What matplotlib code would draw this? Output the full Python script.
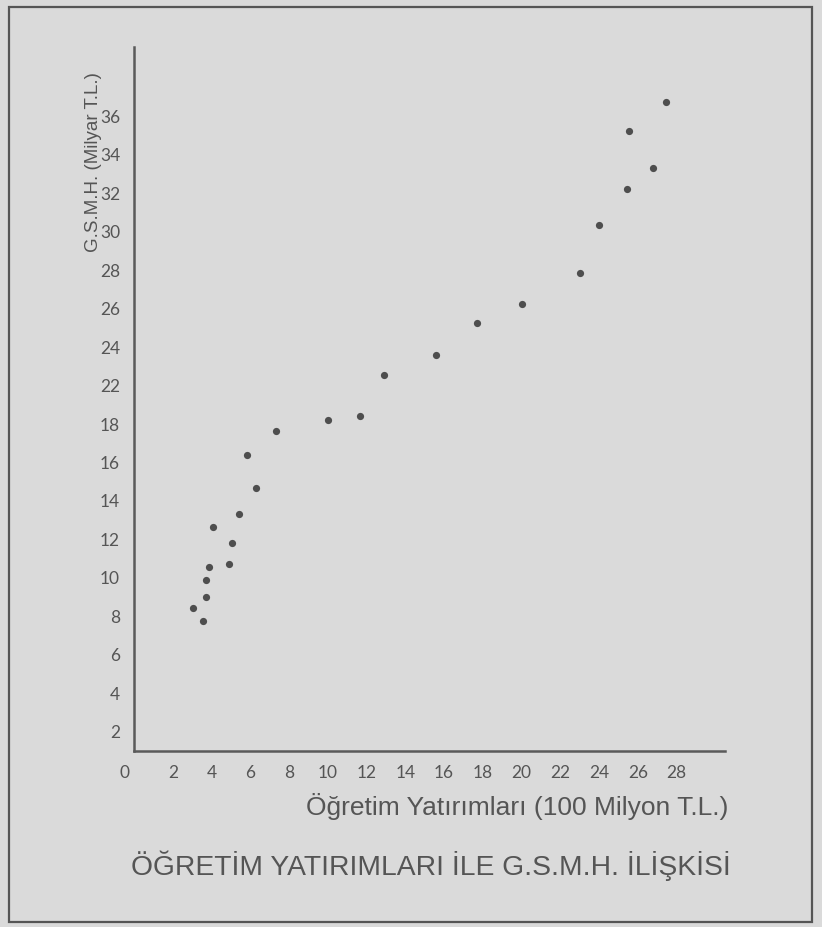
import numpy as np
import matplotlib
matplotlib.use("Agg")
import matplotlib.pyplot as plt
import matplotlib.transforms as mtransforms
from matplotlib.patches import Rectangle

# ---- data ----
investment = [3.07, 3.57, 3.69, 3.72, 3.86, 4.08, 4.91, 5.06, 5.42, 5.84, 6.31, 7.33,
              9.99, 11.68, 12.88, 15.59, 17.72, 20.01, 23.03, 24.01, 25.44, 25.54,
              26.76, 27.46]
gnp = [8.45, 7.78, 9.01, 9.88, 10.56, 12.62, 10.73, 11.82, 13.33, 16.41, 14.69, 17.66,
       18.46, 18.84, 22.54, 23.61, 25.23, 26.22, 27.83, 30.33, 32.24, 35.24,
       33.29, 36.76]
x_tick_values = [0, 2, 4, 6, 8, 10, 12, 14, 16, 18, 20, 22, 24, 26, 28]
y_tick_values = [2, 4, 6, 8, 10, 12, 14, 16, 18, 22, 24, 26, 28, 30, 32, 34, 36]

x_label = "Öğretim Yatırımları (100 Milyon T.L.)"
y_label = "G.S.M.H. (Milyar T.L.)"
title = "ÖĞRETİM YATIRIMLARI İLE G.S.M.H. İLİŞKİSİ"

# The original axis skips the label 20: its labels sit on evenly spaced positions.
y_tick_pos = np.arange(2, 2 * len(y_tick_values) + 1, 2)


def to_axis(v):
    v = np.asarray(v, dtype=float)
    lab = np.array([0] + y_tick_values + [40])
    pos = np.array([0] + list(y_tick_pos) + [38])
    return np.interp(v, lab, pos)


bg = "#dadada"
ink = "#5a5a5a"

fig = plt.figure(figsize=(8.22, 9.27), dpi=100, facecolor=bg)
ax = fig.add_axes([134 / 822, 1 - 751 / 927, (725 - 134) / 822, (751 - 47) / 927])
ax.set_facecolor(bg)

ax.plot(investment, to_axis(gnp), linestyle="none", marker="o",
        markersize=5.2, color="#4e4e4e", markeredgewidth=0)

ax.set_xlim(0, 30.5)
ax.set_ylim(1.0, 37.6)

for side in ("top", "right"):
    ax.spines[side].set_visible(False)
for side in ("left", "bottom"):
    ax.spines[side].set_color(ink)
    ax.spines[side].set_linewidth(1.8)

tick_font = dict(family=["Lato", "DejaVu Sans"], size=12.5, color="#555555")
ax.set_xticks(x_tick_values)
ax.set_xticklabels([str(v) for v in x_tick_values], **tick_font)
ax.set_yticks(y_tick_pos)
ax.set_yticklabels([str(v) for v in y_tick_values], **tick_font)
ax.tick_params(axis="both", length=0)
ax.tick_params(axis="x", pad=10)
ax.tick_params(axis="y", pad=10)

# the "0" label sits a little left of the origin in the original
lbl0 = ax.get_xticklabels()[0]
lbl0.set_transform(lbl0.get_transform() +
                   mtransforms.ScaledTranslation(-10 / 100, 0, fig.dpi_scale_trans))

label_font = dict(family=["Liberation Sans", "DejaVu Sans"], color="#555555")
fig.text(728 / 822, 1 - 807 / 927, x_label, ha="right", va="center",
         size=19, **label_font)
fig.text(93 / 822, 1 - 162 / 927, y_label, ha="center", va="center",
         rotation=90, size=13.5, **label_font)
fig.text(431 / 822, 1 - 866 / 927, title, ha="center", va="center",
         size=20.3, **label_font)

fig.patches.append(Rectangle((9 / 822, 1 - 922 / 927), (812 - 9) / 822, (922 - 7) / 927,
                             transform=fig.transFigure, fill=False,
                             edgecolor="#555555", linewidth=1.6))

fig.savefig("out.png", dpi=100, facecolor=bg)
